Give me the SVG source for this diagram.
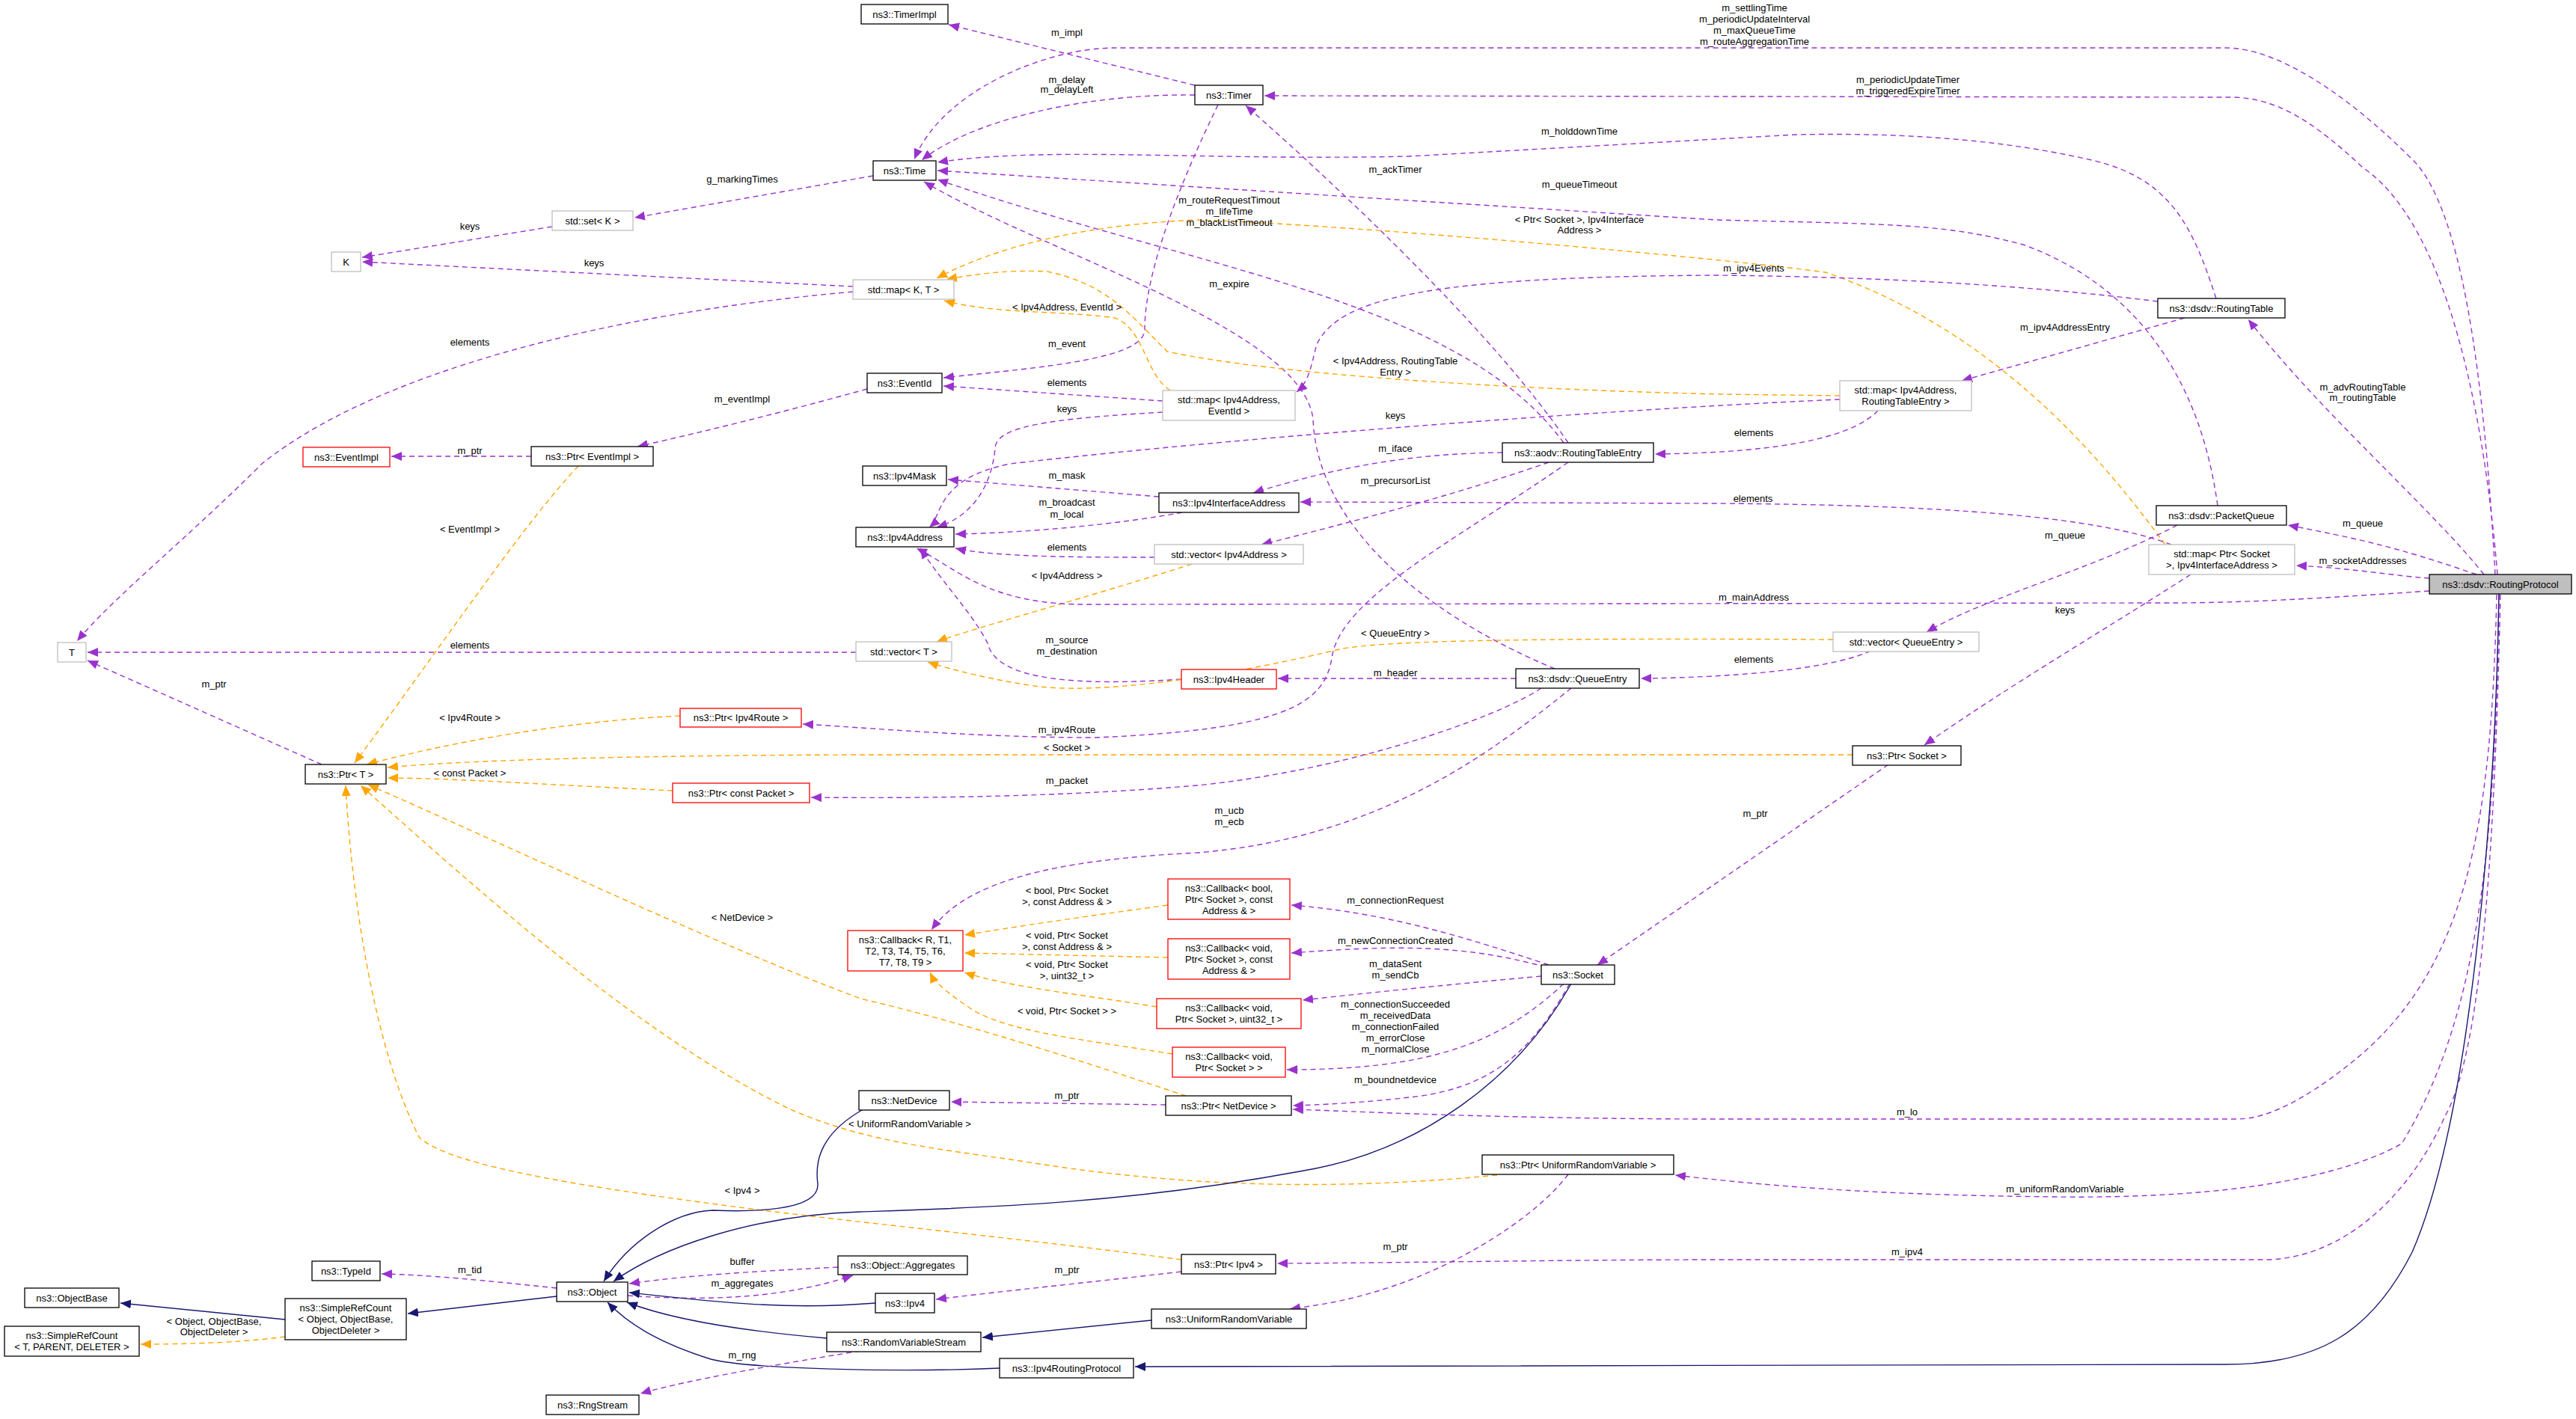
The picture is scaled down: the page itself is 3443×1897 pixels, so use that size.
<svg xmlns="http://www.w3.org/2000/svg" width="3443" height="1897" viewBox="0 0 3443 1897">
<style>
text{font-family:"Liberation Sans",Arial,sans-serif;font-size:13px;fill:#000}
.n text{text-anchor:middle}
.n rect{fill:#fff;stroke:#000;stroke-width:1.3}
.g rect{stroke:#bfbfbf}
.r rect{stroke:#ff0000}
.rp rect{fill:#bfbfbf}
.e path{fill:none;stroke-width:1.4}
.p{stroke:#9a32cd;stroke-dasharray:7,5;marker-end:url(#ap)}
.o{stroke:#ffa500;stroke-dasharray:7,5;marker-end:url(#ao)}
.s{stroke:#191970;marker-end:url(#an)}
.l text{text-anchor:middle}
</style>
<defs>
<marker id="ap" markerUnits="userSpaceOnUse" markerWidth="14" markerHeight="12" viewBox="0 0 14 12" refX="14" refY="6" orient="auto"><path d="M0,0 L14,6 L0,12 z" fill="#9a32cd"/></marker>
<marker id="ao" markerUnits="userSpaceOnUse" markerWidth="14" markerHeight="12" viewBox="0 0 14 12" refX="14" refY="6" orient="auto"><path d="M0,0 L14,6 L0,12 z" fill="#ffa500"/></marker>
<marker id="an" markerUnits="userSpaceOnUse" markerWidth="14" markerHeight="12" viewBox="0 0 14 12" refX="14" refY="6" orient="auto"><path d="M0,0 L14,6 L0,12 z" fill="#191970"/></marker>
</defs>
<rect width="3443" height="1897" fill="#fff"/>
<g id="edges" class="e">
<path class="p" d="M3335,768 C3320,500 3290,270 3220,209 C3130,120 3040,64 2975,64 L1490,64 C1400,64 1260,120 1222,213"/>
<path class="p" d="M3338,768 C3320,550 3270,300 3158,224 C3090,160 3040,130 2982,130 L1690,128"/>
<path class="p" d="M2962,399 C2930,300 2900,240 2800,215 C2650,180 2500,178 2400,180 L1883,209 C1600,215 1400,195 1253,217"/>
<path class="p" d="M2096,592 C2000,450 1800,260 1665,141"/>
<path class="p" d="M2964,676 C2940,500 2850,380 2704,327 C2600,300 2550,300 2294,294 L1253,228"/>
<path class="p" d="M2090,592 C1950,400 1600,360 1253,240"/>
<path class="p" d="M2078,894 C1900,820 1760,700 1755,560 C1740,440 1400,340 1235,243"/>
<path class="p" d="M1597,114 L1268,33"/>
<path class="p" d="M1597,127 C1450,125 1300,160 1232,214"/>
<path class="p" d="M1628,140 C1560,280 1530,380 1530,440 C1530,480 1400,490 1261,505"/>
<path class="p" d="M1167,235 L848,291"/>
<path class="p" d="M738,303 L484,344"/>
<path class="p" d="M1140,383 L484,350"/>
<path class="p" d="M1140,390 C800,420 500,500 350,620 C250,720 150,800 103,857"/>
<path class="p" d="M1144,872 L117,872"/>
<path class="p" d="M430,1022 L117,883"/>
<path class="p" d="M710,610 L523,610"/>
<path class="p" d="M1159,520 C1050,550 950,575 852,597"/>
<path class="o" d="M773,623 C700,700 600,850 474,1020"/>
<path class="o" d="M1564,522 C1530,500 1530,440 1490,425 C1420,415 1330,420 1262,402"/>
<path class="o" d="M2459,529 L2300,527 C2000,520 1700,500 1560,470 C1510,420 1480,380 1400,363 C1340,360 1300,368 1265,373"/>
<path class="o" d="M2894,728 C2800,600 2660,440 2440,364 C2300,345 1800,300 1600,294 C1450,300 1330,330 1252,372"/>
<path class="p" d="M2884,403 C2700,380 2500,370 2294,368 C1900,370 1790,400 1760,460 C1752,490 1750,510 1733,524"/>
<path class="p" d="M2920,425 L2622,509"/>
<path class="p" d="M2459,534 C2200,545 1700,580 1350,620 C1250,640 1260,690 1242,705"/>
<path class="p" d="M2510,549 C2480,580 2400,605 2212,607"/>
<path class="p" d="M1554,536 L1261,516"/>
<path class="p" d="M1554,551 C1400,560 1330,570 1330,600 C1325,650 1300,690 1252,705"/>
<path class="p" d="M2008,605 C1900,606 1800,620 1675,659"/>
<path class="p" d="M2070,618 C1950,660 1800,700 1686,728"/>
<path class="p" d="M1549,664 L1267,641"/>
<path class="p" d="M1580,685 C1500,700 1380,712 1277,714"/>
<path class="p" d="M1543,745 C1450,745 1330,745 1277,733"/>
<path class="o" d="M1593,754 C1450,800 1300,840 1252,858"/>
<path class="p" d="M3247,790 C3100,800 3000,806 2900,806 L1460,808 C1320,810 1280,760 1225,733"/>
<path class="p" d="M1579,908 C1400,920 1330,900 1320,860 C1300,820 1260,780 1230,733"/>
<path class="o" d="M2450,855 C2100,853 1850,855 1790,868 C1700,890 1500,930 1390,918 C1330,910 1270,895 1240,885"/>
<path class="p" d="M2026,907 L1708,907"/>
<path class="p" d="M2500,870 C2460,890 2350,905 2193,907"/>
<path class="p" d="M2910,702 C2800,760 2650,800 2575,845"/>
<path class="p" d="M3310,768 C3200,730 3150,720 3058,702"/>
<path class="p" d="M3247,773 C3200,770 3150,760 3069,756"/>
<path class="p" d="M3320,768 C3250,680 3100,550 3005,427"/>
<path class="p" d="M2902,728 C2800,690 2600,675 2293,673 L1738,671"/>
<path class="p" d="M2928,768 C2800,850 2680,920 2572,996"/>
<path class="o" d="M2476,1009 L1150,1009 C800,1010 600,1018 518,1026"/>
<path class="o" d="M909,957 C800,962 650,980 490,1022"/>
<path class="o" d="M899,1057 C750,1050 600,1040 518,1040"/>
<path class="p" d="M2096,618 C1950,720 1790,800 1780,880 C1770,940 1720,975 1465,986 C1300,986 1150,972 1073,968"/>
<path class="p" d="M2060,920 C2000,960 1800,1030 1600,1050 C1400,1067 1200,1067 1084,1066"/>
<path class="p" d="M2100,920 C2000,1000 1850,1120 1600,1140 C1400,1150 1290,1180 1245,1243"/>
<path class="o" d="M1561,1210 C1450,1225 1350,1240 1289,1250"/>
<path class="o" d="M1561,1280 L1289,1274"/>
<path class="o" d="M1546,1346 C1450,1330 1350,1320 1289,1300"/>
<path class="o" d="M1567,1409 C1450,1390 1350,1380 1300,1350 C1270,1330 1250,1315 1243,1300"/>
<path class="p" d="M2070,1290 C1950,1250 1850,1220 1726,1210"/>
<path class="p" d="M2066,1293 C1950,1260 1850,1265 1726,1274"/>
<path class="p" d="M2060,1305 C1950,1315 1850,1325 1741,1337"/>
<path class="p" d="M2090,1315 C2000,1400 1900,1430 1720,1430"/>
<path class="p" d="M2098,1315 C2050,1400 2000,1450 1900,1465 C1820,1475 1760,1477 1728,1478"/>
<path class="p" d="M3337,795 C3330,1100 3300,1300 3136,1426 C3080,1470 3030,1496 2990,1496 L2300,1496 C2000,1496 1800,1485 1728,1483"/>
<path class="p" d="M1558,1477 L1271,1473"/>
<path class="o" d="M1585,1465 C1450,1420 1300,1370 1150,1335 C950,1260 700,1140 492,1049"/>
<path class="o" d="M2001,1571 C1800,1590 1600,1590 1370,1553 C1250,1535 1150,1526 1050,1480 C850,1380 650,1200 482,1050"/>
<path class="o" d="M1579,1684 C1400,1660 1200,1640 1027,1619 C800,1590 600,1560 560,1520 C500,1400 470,1200 462,1050"/>
<path class="p" d="M3340,795 C3335,1100 3320,1350 3210,1529 C3100,1590 2900,1602 2748,1600 C2550,1598 2400,1590 2239,1571"/>
<path class="p" d="M3342,795 C3335,1100 3320,1400 3268,1492 C3220,1600 3130,1684 3026,1684 L2300,1684 C2100,1684 1900,1688 1707,1689"/>
<path class="p" d="M2096,1570 C2050,1630 1950,1690 1860,1720 C1800,1740 1760,1745 1724,1750"/>
<path class="p" d="M1579,1700 C1450,1715 1350,1725 1251,1737"/>
<path class="p" d="M744,1722 C650,1712 570,1704 510,1703"/>
<path class="p" d="M1120,1694 C1000,1700 920,1705 841,1716"/>
<path class="p" d="M839,1732 C950,1740 1050,1735 1140,1705"/>
<path class="s" d="M744,1733 L545,1756"/>
<path class="s" d="M381,1764 L161,1742"/>
<path class="o" d="M381,1787 C320,1795 250,1797 188,1797"/>
<path class="s" d="M1152,1484 C1090,1520 1090,1560 1093,1583 C1095,1620 1000,1620 953,1618 C900,1620 840,1660 807,1713"/>
<path class="s" d="M2100,1315 C2030,1440 1900,1540 1737,1566 C1500,1610 1300,1615 1150,1620 C1000,1625 880,1670 820,1713"/>
<path class="s" d="M1170,1742 C1050,1752 950,1740 841,1728"/>
<path class="s" d="M1105,1789 C1000,1780 900,1765 838,1741"/>
<path class="s" d="M1336,1829 C1200,1835 1000,1830 950,1817 C880,1795 840,1770 812,1741"/>
<path class="s" d="M1539,1765 L1313,1788"/>
<path class="s" d="M3340,793 C3335,1100 3300,1500 3224,1674 C3170,1780 3100,1824 2975,1824 L1517,1827"/>
<path class="p" d="M1150,1806 C1000,1830 900,1850 856,1863"/>
<path class="p" d="M2524,1022 L2135,1290"/>
</g>
<g id="labels" class="l">
<text x="2345" y="15">m_settlingTime</text>
<text x="2345" y="30">m_periodicUpdateInterval</text>
<text x="2345" y="45">m_maxQueueTime</text>
<text x="2345" y="60">m_routeAggregationTime</text>
<text x="2550" y="111">m_periodicUpdateTimer</text>
<text x="2550" y="126">m_triggeredExpireTimer</text>
<text x="2111" y="180">m_holddownTime</text>
<text x="1865" y="231">m_ackTimer</text>
<text x="2111" y="251">m_queueTimeout</text>
<text x="1643" y="272">m_routeRequestTimout</text>
<text x="1643" y="287">m_lifeTime</text>
<text x="1643" y="302">m_blackListTimeout</text>
<text x="1643" y="384">m_expire</text>
<text x="1426" y="48">m_impl</text>
<text x="1426" y="111">m_delay</text>
<text x="1426" y="124">m_delayLeft</text>
<text x="1426" y="464">m_event</text>
<text x="992" y="244">g_markingTimes</text>
<text x="628" y="307">keys</text>
<text x="794" y="356">keys</text>
<text x="628" y="462">elements</text>
<text x="628" y="867">elements</text>
<text x="286" y="919">m_ptr</text>
<text x="628" y="607">m_ptr</text>
<text x="992" y="538">m_eventImpl</text>
<text x="628" y="712">&lt; EventImpl &gt;</text>
<text x="1426" y="415">&lt; Ipv4Address, EventId &gt;</text>
<text x="1865" y="487">&lt; Ipv4Address, RoutingTable</text>
<text x="1865" y="502">Entry &gt;</text>
<text x="2111" y="298">&lt; Ptr&lt; Socket &gt;, Ipv4Interface</text>
<text x="2111" y="312">Address &gt;</text>
<text x="2344" y="363">m_ipv4Events</text>
<text x="2760" y="442">m_ipv4AddressEntry</text>
<text x="1865" y="560">keys</text>
<text x="2344" y="583">elements</text>
<text x="1426" y="516">elements</text>
<text x="1426" y="551">keys</text>
<text x="1865" y="604">m_iface</text>
<text x="1865" y="647">m_precursorList</text>
<text x="1426" y="640">m_mask</text>
<text x="1426" y="676">m_broadcast</text>
<text x="1426" y="692">m_local</text>
<text x="1426" y="736">elements</text>
<text x="1426" y="774">&lt; Ipv4Address &gt;</text>
<text x="2344" y="803">m_mainAddress</text>
<text x="1426" y="860">m_source</text>
<text x="1426" y="875">m_destination</text>
<text x="1865" y="851">&lt; QueueEntry &gt;</text>
<text x="1865" y="904">m_header</text>
<text x="2344" y="886">elements</text>
<text x="2760" y="720">m_queue</text>
<text x="3158" y="704">m_queue</text>
<text x="3158" y="754">m_socketAddresses</text>
<text x="3158" y="522">m_advRoutingTable</text>
<text x="3158" y="536">m_routingTable</text>
<text x="2343" y="671">elements</text>
<text x="2760" y="820">keys</text>
<text x="1426" y="1004">&lt; Socket &gt;</text>
<text x="628" y="964">&lt; Ipv4Route &gt;</text>
<text x="628" y="1038">&lt; const Packet &gt;</text>
<text x="1426" y="980">m_ipv4Route</text>
<text x="1426" y="1048">m_packet</text>
<text x="1643" y="1088">m_ucb</text>
<text x="1643" y="1103">m_ecb</text>
<text x="1426" y="1195">&lt; bool, Ptr&lt; Socket</text>
<text x="1426" y="1210">&gt;, const Address &amp; &gt;</text>
<text x="1426" y="1255">&lt; void, Ptr&lt; Socket</text>
<text x="1426" y="1270">&gt;, const Address &amp; &gt;</text>
<text x="1426" y="1294">&lt; void, Ptr&lt; Socket</text>
<text x="1426" y="1309">&gt;, uint32_t &gt;</text>
<text x="1426" y="1356">&lt; void, Ptr&lt; Socket &gt; &gt;</text>
<text x="1865" y="1208">m_connectionRequest</text>
<text x="1865" y="1262">m_newConnectionCreated</text>
<text x="1865" y="1293">m_dataSent</text>
<text x="1865" y="1308">m_sendCb</text>
<text x="1865" y="1347">m_connectionSucceeded</text>
<text x="1865" y="1362">m_receivedData</text>
<text x="1865" y="1377">m_connectionFailed</text>
<text x="1865" y="1392">m_errorClose</text>
<text x="1865" y="1407">m_normalClose</text>
<text x="1865" y="1448">m_boundnetdevice</text>
<text x="2549" y="1491">m_lo</text>
<text x="1426" y="1469">m_ptr</text>
<text x="992" y="1231">&lt; NetDevice &gt;</text>
<text x="1216" y="1507">&lt; UniformRandomVariable &gt;</text>
<text x="992" y="1596">&lt; Ipv4 &gt;</text>
<text x="2760" y="1594">m_uniformRandomVariable</text>
<text x="2549" y="1678">m_ipv4</text>
<text x="1865" y="1671">m_ptr</text>
<text x="1426" y="1702">m_ptr</text>
<text x="628" y="1702">m_tid</text>
<text x="992" y="1691">buffer</text>
<text x="992" y="1720">m_aggregates</text>
<text x="286" y="1771">&lt; Object, ObjectBase,</text>
<text x="286" y="1785">ObjectDeleter &gt;</text>
<text x="992" y="1816">m_rng</text>
<text x="2346" y="1092">m_ptr</text>
</g>
<g id="TimerImpl" class="n"><rect x="1151" y="6" width="116" height="26"/><text x="1209" y="23.5">ns3::TimerImpl</text></g>
<g id="Timer" class="n"><rect x="1597" y="114" width="91" height="26"/><text x="1642.5" y="131.5">ns3::Timer</text></g>
<g id="Time" class="n"><rect x="1167" y="215" width="84" height="26"/><text x="1209" y="232.5">ns3::Time</text></g>
<g id="setK" class="n g"><rect x="738" y="282" width="108" height="26"/><text x="792" y="299.5">std::set&lt; K &gt;</text></g>
<g id="K" class="n g"><rect x="443" y="337" width="39" height="26"/><text x="462.5" y="354.5">K</text></g>
<g id="mapKT" class="n g"><rect x="1140" y="374" width="135" height="26"/><text x="1207.5" y="391.5">std::map&lt; K, T &gt;</text></g>
<g id="EventId" class="n"><rect x="1159" y="499" width="100" height="26"/><text x="1209" y="516.5">ns3::EventId</text></g>
<g id="mapIpEv" class="n g"><rect x="1554" y="522" width="177" height="40"/><text x="1642.5" y="539">std::map&lt; Ipv4Address,</text><text x="1642.5" y="554">EventId &gt;</text></g>
<g id="EventImpl" class="n r"><rect x="405" y="598" width="116" height="26"/><text x="463" y="615.5">ns3::EventImpl</text></g>
<g id="PtrEventImpl" class="n"><rect x="710" y="597" width="163" height="26"/><text x="791.5" y="614.5">ns3::Ptr&lt; EventImpl &gt;</text></g>
<g id="Ipv4Mask" class="n"><rect x="1153" y="623" width="112" height="26"/><text x="1209" y="640.5">ns3::Ipv4Mask</text></g>
<g id="Ipv4IfAddr" class="n"><rect x="1549" y="659" width="187" height="26"/><text x="1642.5" y="676.5">ns3::Ipv4InterfaceAddress</text></g>
<g id="Ipv4Address" class="n"><rect x="1144" y="705" width="131" height="26"/><text x="1209.5" y="722.5">ns3::Ipv4Address</text></g>
<g id="vecIp" class="n g"><rect x="1543" y="728" width="199" height="26"/><text x="1642.5" y="745.5">std::vector&lt; Ipv4Address &gt;</text></g>
<g id="vecT" class="n g"><rect x="1144" y="858" width="128" height="26"/><text x="1208" y="875.5">std::vector&lt; T &gt;</text></g>
<g id="T" class="n g"><rect x="77" y="859" width="38" height="26"/><text x="96" y="876.5">T</text></g>
<g id="Ipv4Header" class="n r"><rect x="1579" y="895" width="127" height="26"/><text x="1642.5" y="912.5">ns3::Ipv4Header</text></g>
<g id="QueueEntry" class="n"><rect x="2026" y="894" width="165" height="26"/><text x="2108.5" y="911.5">ns3::dsdv::QueueEntry</text></g>
<g id="RTE" class="n"><rect x="2008" y="592" width="202" height="26"/><text x="2109" y="609.5">ns3::aodv::RoutingTableEntry</text></g>
<g id="RoutingTable" class="n"><rect x="2884" y="399" width="170" height="26"/><text x="2969" y="416.5">ns3::dsdv::RoutingTable</text></g>
<g id="mapIpRTE" class="n g"><rect x="2459" y="509" width="176" height="40"/><text x="2547" y="526">std::map&lt; Ipv4Address,</text><text x="2547" y="541">RoutingTableEntry &gt;</text></g>
<g id="PacketQueue" class="n"><rect x="2882" y="676" width="174" height="26"/><text x="2969" y="693.5">ns3::dsdv::PacketQueue</text></g>
<g id="mapSock" class="n g"><rect x="2872" y="728" width="195" height="40"/><text x="2969.5" y="745">std::map&lt; Ptr&lt; Socket</text><text x="2969.5" y="760">&gt;, Ipv4InterfaceAddress &gt;</text></g>
<g id="RoutingProtocol" class="n rp"><rect x="3247" y="768" width="190" height="26"/><text x="3342" y="785.5">ns3::dsdv::RoutingProtocol</text></g>
<g id="vecQE" class="n g"><rect x="2450" y="845" width="195" height="26"/><text x="2547.5" y="862.5">std::vector&lt; QueueEntry &gt;</text></g>
<g id="PtrIpv4Route" class="n r"><rect x="909" y="947" width="162" height="25"/><text x="990" y="964">ns3::Ptr&lt; Ipv4Route &gt;</text></g>
<g id="PtrT" class="n"><rect x="408" y="1022" width="108" height="26"/><text x="462" y="1039.5">ns3::Ptr&lt; T &gt;</text></g>
<g id="PtrSocket" class="n"><rect x="2476" y="997" width="145" height="26"/><text x="2548.5" y="1014.5">ns3::Ptr&lt; Socket &gt;</text></g>
<g id="PtrConstPacket" class="n r"><rect x="899" y="1047" width="183" height="26"/><text x="990.5" y="1064.5">ns3::Ptr&lt; const Packet &gt;</text></g>
<g id="CbR" class="n r"><rect x="1133" y="1244" width="154" height="54"/><text x="1210" y="1261">ns3::Callback&lt; R, T1,</text><text x="1210" y="1276">T2, T3, T4, T5, T6,</text><text x="1210" y="1291">T7, T8, T9 &gt;</text></g>
<g id="CbBool" class="n r"><rect x="1561" y="1175" width="163" height="54"/><text x="1642.5" y="1192">ns3::Callback&lt; bool,</text><text x="1642.5" y="1207">Ptr&lt; Socket &gt;, const</text><text x="1642.5" y="1222">Address &amp; &gt;</text></g>
<g id="CbVoidAddr" class="n r"><rect x="1561" y="1255" width="163" height="54"/><text x="1642.5" y="1272">ns3::Callback&lt; void,</text><text x="1642.5" y="1287">Ptr&lt; Socket &gt;, const</text><text x="1642.5" y="1302">Address &amp; &gt;</text></g>
<g id="CbVoidU32" class="n r"><rect x="1546" y="1335" width="193" height="40"/><text x="1642.5" y="1352">ns3::Callback&lt; void,</text><text x="1642.5" y="1367">Ptr&lt; Socket &gt;, uint32_t &gt;</text></g>
<g id="CbVoid" class="n r"><rect x="1567" y="1400" width="151" height="40"/><text x="1642.5" y="1417">ns3::Callback&lt; void,</text><text x="1642.5" y="1432">Ptr&lt; Socket &gt; &gt;</text></g>
<g id="Socket" class="n"><rect x="2060" y="1290" width="98" height="26"/><text x="2109" y="1307.5">ns3::Socket</text></g>
<g id="NetDevice" class="n"><rect x="1148" y="1458" width="121" height="26"/><text x="1208.5" y="1475.5">ns3::NetDevice</text></g>
<g id="PtrNetDevice" class="n"><rect x="1558" y="1465" width="168" height="26"/><text x="1642" y="1482.5">ns3::Ptr&lt; NetDevice &gt;</text></g>
<g id="PtrURV" class="n"><rect x="1981" y="1544" width="256" height="26"/><text x="2109" y="1561.5">ns3::Ptr&lt; UniformRandomVariable &gt;</text></g>
<g id="Aggregates" class="n"><rect x="1120" y="1679" width="173" height="25"/><text x="1206.5" y="1696">ns3::Object::Aggregates</text></g>
<g id="PtrIpv4" class="n"><rect x="1579" y="1677" width="126" height="26"/><text x="1642" y="1694.5">ns3::Ptr&lt; Ipv4 &gt;</text></g>
<g id="Ipv4" class="n"><rect x="1170" y="1729" width="79" height="26"/><text x="1209.5" y="1746.5">ns3::Ipv4</text></g>
<g id="URV" class="n"><rect x="1539" y="1750" width="207" height="26"/><text x="1642.5" y="1767.5">ns3::UniformRandomVariable</text></g>
<g id="RVS" class="n"><rect x="1105" y="1781" width="206" height="26"/><text x="1208" y="1798.5">ns3::RandomVariableStream</text></g>
<g id="Ipv4RoutingProtocol" class="n"><rect x="1336" y="1816" width="179" height="26"/><text x="1425.5" y="1833.5">ns3::Ipv4RoutingProtocol</text></g>
<g id="TypeId" class="n"><rect x="417" y="1686" width="91" height="26"/><text x="462.5" y="1703.5">ns3::TypeId</text></g>
<g id="ObjectBase" class="n"><rect x="33" y="1722" width="126" height="26"/><text x="96" y="1739.5">ns3::ObjectBase</text></g>
<g id="SRCObj" class="n"><rect x="381" y="1736" width="162" height="55"/><text x="462" y="1753">ns3::SimpleRefCount</text><text x="462" y="1768">&lt; Object, ObjectBase,</text><text x="462" y="1783">ObjectDeleter &gt;</text></g>
<g id="SRCT" class="n"><rect x="6" y="1773" width="180" height="40"/><text x="96" y="1790">ns3::SimpleRefCount</text><text x="96" y="1805">&lt; T, PARENT, DELETER &gt;</text></g>
<g id="Object" class="n"><rect x="744" y="1714" width="95" height="26"/><text x="791.5" y="1731.5">ns3::Object</text></g>
<g id="RngStream" class="n"><rect x="730" y="1865" width="124" height="26"/><text x="792" y="1882.5">ns3::RngStream</text></g>
</svg>
